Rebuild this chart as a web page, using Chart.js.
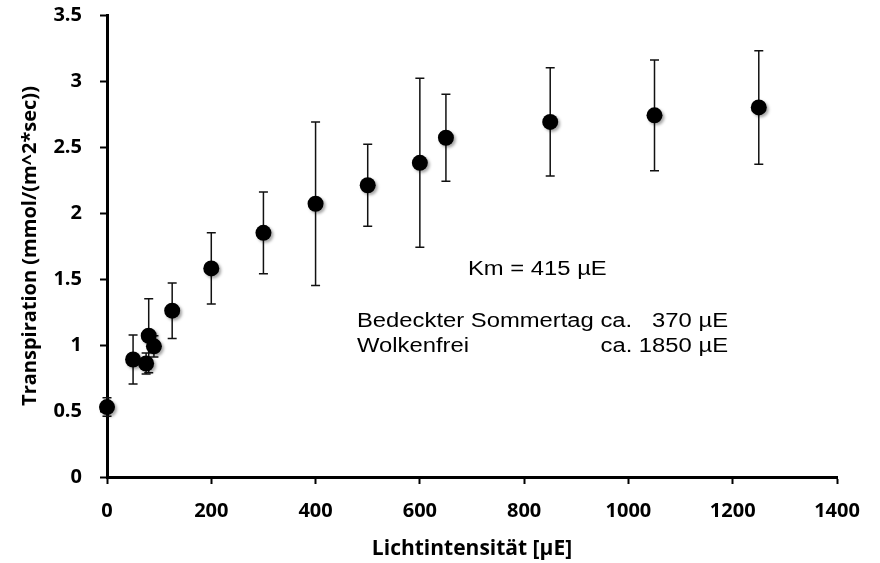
<!DOCTYPE html>
<html><head><meta charset="utf-8">
<script src="https://cdn.jsdelivr.net/npm/chart.js@4"></script>
<style>html,body{margin:0;padding:0;background:#fff;} #wrap{width:880px;height:563px;}</style>
</head><body><div id="wrap"><canvas id="c" width="880" height="563"></canvas></div>
<script>
const lightIntensity = [0, 50, 75, 80, 90, 125, 200, 300, 400, 500, 600, 650, 850, 1050, 1250];
const transpiration  = [0.53, 0.89, 0.86, 1.07, 0.99, 1.26, 1.58, 1.85, 2.07, 2.21, 2.38, 2.57, 2.69, 2.74, 2.80];
const stdDev         = [0.07, 0.185, 0.08, 0.28, 0.08, 0.21, 0.27, 0.31, 0.62, 0.31, 0.64, 0.33, 0.41, 0.42, 0.43];
const xTickValues = [0, 200, 400, 600, 800, 1000, 1200, 1400];
const yTickValues = [0, 0.5, 1, 1.5, 2, 2.5, 3, 3.5];
const xTitle = 'Lichtintensität [µE]';
const yTitle = 'Transpiration (mmol/(m^2*sec))';
const noteKm = 'Km = 415 µE';
const noteLine1Left = 'Bedeckter Sommertag ca.';
const noteLine1Right = '370 µE';
const noteLine2Left = 'Wolkenfrei';
const noteLine2Right = 'ca. 1850 µE';

const errorBarPlugin = {
  id: 'errorBars',
  beforeDatasetsDraw(chart) {
    const {ctx, scales: {x, y}} = chart;
    ctx.save();
    ctx.strokeStyle = '#111';
    ctx.lineWidth = 1.5;
    lightIntensity.forEach((v, i) => {
      const px = x.getPixelForValue(v);
      const top = y.getPixelForValue(transpiration[i] + stdDev[i]);
      const bot = y.getPixelForValue(transpiration[i] - stdDev[i]);
      ctx.beginPath();
      ctx.moveTo(px, top); ctx.lineTo(px, bot);
      ctx.moveTo(px - 4.5, top); ctx.lineTo(px + 4.5, top);
      ctx.moveTo(px - 4.5, bot); ctx.lineTo(px + 4.5, bot);
      ctx.stroke();
    });
    ctx.restore();
  },
  beforeDatasetDraw(chart) {
    const ctx = chart.ctx;
    ctx.save();
    ctx.shadowColor = 'rgba(0,0,0,0.35)';
    ctx.shadowBlur = 3;
    ctx.shadowOffsetX = 2;
    ctx.shadowOffsetY = 2;
  },
  afterDatasetDraw(chart) {
    chart.ctx.restore();
  },
  afterDraw(chart) {
    const ctx = chart.ctx;
    const sx = 1.19;
    ctx.save();
    ctx.fillStyle = '#000';
    ctx.font = '20px "Liberation Sans", Arial, sans-serif';
    ctx.textBaseline = 'alphabetic';
    ctx.scale(sx, 1);
    ctx.textAlign = 'left';
    ctx.fillText(noteKm, 468 / sx, 275);
    ctx.fillText(noteLine1Left, 357 / sx, 327);
    ctx.fillText(noteLine2Left, 357 / sx, 352);
    ctx.textAlign = 'right';
    ctx.fillText(noteLine1Right, 728 / sx, 327);
    ctx.fillText(noteLine2Right, 728 / sx, 352);
    ctx.restore();
  }
};

const tickFont = {family: '"Open Sans", sans-serif', size: 20, weight: 'bold'};
const titleFont = {family: '"Open Sans", sans-serif', size: 20, weight: 'bold'};

new Chart(document.getElementById('c'), {
  type: 'scatter',
  data: {
    datasets: [{
      data: lightIntensity.map((v, i) => ({x: v, y: transpiration[i]})),
      pointRadius: 8,
      pointHoverRadius: 8,
      pointBackgroundColor: '#000',
      pointBorderColor: '#000',
      pointBorderWidth: 0,
      showLine: false,
      clip: false
    }]
  },
  options: {
    responsive: false,
    animation: false,
    events: [],
    layout: {padding: {left: 0, right: 43, top: 15, bottom: 0}},
    plugins: {legend: {display: false}, tooltip: {enabled: false}},
    scales: {
      x: {
        type: 'linear', min: 0, max: 1400,
        afterBuildTicks: s => { s.ticks = xTickValues.map(v => ({value: v})); },
        afterFit: s => { s.height = 86; s.paddingLeft = 0; s.paddingRight = 0; },
        border: {display: true, color: '#000', width: 3},
        grid: {display: true, drawOnChartArea: false, drawTicks: true, tickLength: 7, tickWidth: 2, tickColor: '#000', color: '#000'},
        ticks: {color: '#000', font: tickFont, padding: 15, maxRotation: 0, autoSkip: false, callback: v => String(v)},
        title: {display: true, text: xTitle, color: '#000', font: {family: '"Open Sans", sans-serif', size: 21, weight: 'bold'}, padding: {top: 0, bottom: 1}}
      },
      y: {
        type: 'linear', min: 0, max: 3.5,
        afterBuildTicks: s => { s.ticks = yTickValues.map(v => ({value: v})); },
        afterFit: s => { s.width = 107; s.paddingTop = 0; s.paddingBottom = 0; },
        border: {display: true, color: '#000', width: 3},
        grid: {display: true, drawOnChartArea: false, drawTicks: true, tickLength: 7, tickWidth: 2, tickColor: '#000', color: '#000'},
        ticks: {color: '#000', font: tickFont, padding: 18, autoSkip: false, callback: v => String(v)},
        title: {display: true, text: yTitle, color: '#000', font: titleFont, padding: {top: 18, bottom: 0}}
      }
    }
  },
  plugins: [errorBarPlugin]
});
</script>
</body></html>
